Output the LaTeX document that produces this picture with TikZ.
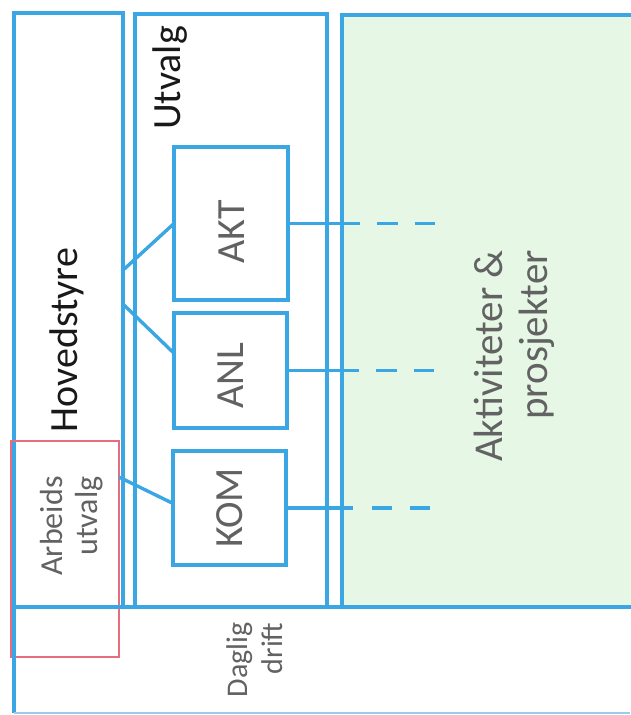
\documentclass[tikz,border=0pt]{standalone}
\usepackage{fontspec}
\setmainfont{Carlito}
\usetikzlibrary{calc}
\definecolor{lblue}{RGB}{58,166,228}
\definecolor{lblueb}{RGB}{150,205,240}
\definecolor{lred}{RGB}{232,108,124}
\definecolor{lgreen}{RGB}{230,247,229}
\definecolor{tgray}{RGB}{98,98,98}
\definecolor{tblack}{RGB}{25,25,25}
\begin{document}
\begin{tikzpicture}[x=1pt,y=-1pt,
  box/.style={draw=lblue, line width=3.4pt, inner sep=0pt, outer sep=0pt, anchor=north west},
  redbox/.style={draw=lred, line width=2.6pt, inner sep=0pt, outer sep=0pt, anchor=north west},
  conn/.style={draw=lblue, line width=3.4pt},
  lbl/.style={rotate=90, inner sep=0pt, text=tgray, align=center},
  big/.style={font=\fontsize{40}{44}\selectfont},
  mid/.style={font=\fontsize{32}{35}\selectfont},
]
\useasboundingbox (0,0) rectangle (630,715);
% boxes
\node[box, fill=lgreen, minimum width=300pt, minimum height=592pt] (grn) at (342,15) {};
\node[box, minimum width=109pt, minimum height=594pt] (hov) at (14,13) {};
\node[box, minimum width=192pt, minimum height=593pt] (utv) at (135,14) {};
\node[box, minimum width=114pt, minimum height=153pt] (akt) at (174,147) {};
\node[box, minimum width=113pt, minimum height=115pt] (anl) at (174,313) {};
\node[box, minimum width=113pt, minimum height=114pt] (kom) at (173,451) {};
\node[redbox, minimum width=108pt, minimum height=216pt] (arb) at (11,441) {};
% outer frame
\coordinate (fbl) at (14,713);
\coordinate (fbr) at (630,713);
\draw[conn] (hov.south west) -- (grn.south east);
\draw[conn] (hov.south west) -- (fbl);
\draw[draw=lblueb, line width=1.5pt] (fbl) -- (fbr);
% connectors
\draw[conn] ($(hov.north east)!0.433!(hov.south east)$) -- (akt.west);
\draw[conn] ($(hov.north east)!0.49!(hov.south east)$) -- ($(anl.north west)!0.35!(anl.south west)$);
\draw[conn] ($(arb.north east)!0.167!(arb.south east)$) -- ($(kom.north west)!0.46!(kom.south west)$);
\coordinate (dend) at (435,0);
\coordinate (dendk) at (430,0);
\draw[conn, dash pattern=on 72pt off 17pt on 21pt off 17pt on 20pt] (akt.east) -- (akt.east -| dend);
\draw[conn, dash pattern=on 72pt off 17pt on 21pt off 17pt on 20pt] (anl.east) -- (anl.east -| dend);
\draw[conn, dash pattern=on 67pt off 19pt on 20pt off 18pt on 20pt] (kom.east) -- (kom.east -| dendk);
% labels
\node[lbl, big, text=tblack] (thov) at (67,340) {Hovedstyre};
\node[lbl, big, text=tblack] (tutv) at (170,78) {Utvalg};
\node[lbl, big] (takt) at (232,232) {AKT};
\node[lbl, big] (tanl) at (231,376) {ANL};
\node[lbl, big] (tkom) at (230,508) {KOM};
\node[lbl, mid, align=right] (tarb) at (72,526) {Arbeids\\utvalg};
\node[lbl, font=\fontsize{30}{35}\selectfont, align=right] (tdag) at (255,660) {Daglig\\drift};
\node[lbl, font=\fontsize{41}{45}\selectfont, align=right] (takp) at (514,356) {Aktiviteter \&\\prosjekter};
\end{tikzpicture}
\end{document}
